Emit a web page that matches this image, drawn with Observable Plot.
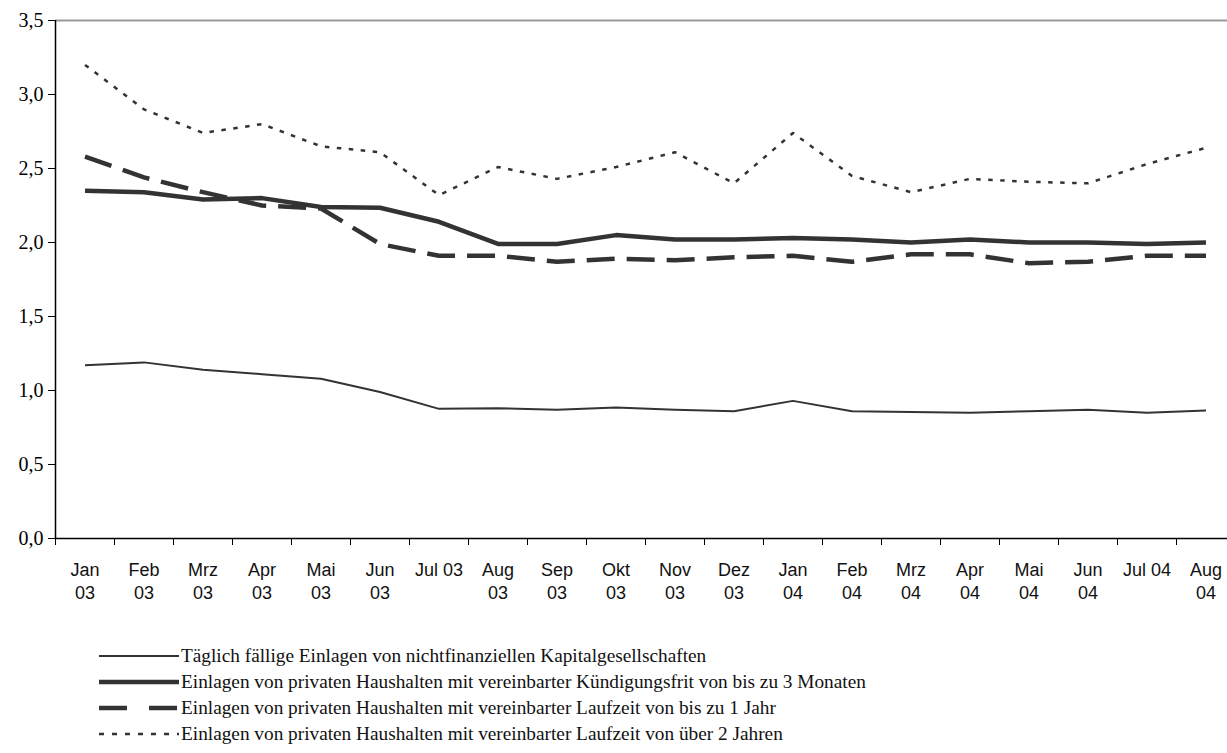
<!DOCTYPE html>
<html>
<head>
<meta charset="utf-8">
<script src="https://cdn.jsdelivr.net/npm/d3@7"></script>
<script src="https://cdn.jsdelivr.net/npm/@observablehq/plot@0.6"></script>
<style>
  html, body { margin: 0; padding: 0; background: #fff; overflow: hidden; }
  #chart svg { display: block; }
  #legend { margin-top: 33px; font-family: "Liberation Serif", serif; font-size: 19.3px; color: #111; }
  .row { height: 26px; display: flex; align-items: center; }
  .row svg { margin-left: 99px; width: 80px; height: 10px; flex: none; }
  .row span { margin-left: 2px; white-space: nowrap; }
</style>
</head>
<body>
<div id="chart"></div>
<div id="legend"></div>
<script>
const months = ["Jan\n03","Feb\n03","Mrz\n03","Apr\n03","Mai\n03","Jun\n03","Jul 03","Aug\n03","Sep\n03","Okt\n03","Nov\n03","Dez\n03","Jan\n04","Feb\n04","Mrz\n04","Apr\n04","Mai\n04","Jun\n04","Jul 04","Aug\n04"];
const taeglichFaellig = [1.17, 1.19, 1.14, 1.11, 1.08, 0.99, 0.876, 0.88, 0.87, 0.885, 0.87, 0.86, 0.93, 0.86, 0.855, 0.85, 0.86, 0.87, 0.85, 0.865];
const kuendigung3M = [2.35, 2.34, 2.29, 2.30, 2.24, 2.235, 2.14, 1.99, 1.99, 2.05, 2.02, 2.02, 2.03, 2.02, 2.00, 2.02, 2.00, 2.00, 1.99, 2.00];
const laufzeit1J = [2.58, 2.44, 2.34, 2.25, 2.23, 1.99, 1.91, 1.91, 1.87, 1.89, 1.88, 1.90, 1.91, 1.87, 1.92, 1.92, 1.86, 1.87, 1.91, 1.91];
const laufzeit2J = [3.20, 2.90, 2.74, 2.80, 2.65, 2.61, 2.32, 2.51, 2.43, 2.51, 2.61, 2.40, 2.74, 2.45, 2.34, 2.43, 2.41, 2.40, 2.53, 2.64];
const seriesNames = [
  "Täglich fällige Einlagen von nichtfinanziellen Kapitalgesellschaften",
  "Einlagen von privaten Haushalten mit vereinbarter Kündigungsfrit von bis zu 3 Monaten",
  "Einlagen von privaten Haushalten mit vereinbarter Laufzeit von bis zu 1 Jahr",
  "Einlagen von privaten Haushalten mit vereinbarter Laufzeit von über 2 Jahren"
];

const styles = [
  {strokeWidth: 2, dash: null, legendDash: null},
  {strokeWidth: 4.5, dash: null, legendDash: null},
  {strokeWidth: 4.5, dash: "28,12", legendDash: "28,22"},
  {strokeWidth: 2.5, dash: "4.5,7.5", legendDash: "5,8"}
];
const allSeries = [taeglichFaellig, kuendigung3M, laufzeit1J, laufzeit2J];
const idx = months.map((_, i) => i);
const boundaries = d3.range(months.length + 1).map(i => i - 0.5);
const lineColor = "#333";
const fmt = v => d3.format(".1f")(v).replace(".", ",");

const lineMarks = allSeries.map((vals, s) =>
  Plot.line(idx, {
    x: i => i, y: i => vals[i],
    stroke: lineColor,
    strokeWidth: styles[s].strokeWidth,
    strokeDasharray: styles[s].dash,
    strokeLinejoin: "round",
    strokeLinecap: "butt"
  })
);

const chart = Plot.plot({
  width: 1227,
  height: 610,
  marginTop: 20,
  marginBottom: 72,
  marginLeft: 55,
  marginRight: 0,
  style: {fontFamily: "Liberation Serif, serif", fontSize: "20px", color: "#000", background: "#fff"},
  x: {domain: [-0.5, months.length - 0.5], range: [55, 1235], axis: null},
  y: {domain: [0, 3.5], ticks: 7, tickSize: 7, tickPadding: 5, tickFormat: fmt, label: null},
  marks: [
    Plot.ruleY([3.5], {stroke: "#999", strokeWidth: 2}),
    ...lineMarks,
    Plot.ruleX([-0.5], {stroke: "#000", strokeWidth: 1.5}),
    Plot.ruleY([0], {stroke: "#000", strokeWidth: 1.5}),
    Plot.ruleX(boundaries, {x: d => d, y1: 0, y2: -7 / 148, stroke: "#000", strokeWidth: 1}),
    Plot.text(idx, {
      x: i => i, y: 0, text: i => months[i],
      dy: 21, lineAnchor: "top", lineHeight: 1.28,
      fontFamily: "Liberation Sans, Arial, sans-serif", fontSize: 18, fill: "#111"
    })
  ]
});
document.getElementById("chart").appendChild(chart);

const legend = document.getElementById("legend");
seriesNames.forEach((name, s) => {
  const row = document.createElement("div");
  row.className = "row";
  const st = styles[s];
  row.innerHTML = `<svg viewBox="0 0 80 10"><line x1="0" y1="5" x2="80" y2="5" stroke="${lineColor}" stroke-width="${st.strokeWidth}" ${st.legendDash ? `stroke-dasharray="${st.legendDash}"` : ""}/></svg><span></span>`;
  row.querySelector("span").textContent = name;
  legend.appendChild(row);
});
</script>
</body>
</html>
